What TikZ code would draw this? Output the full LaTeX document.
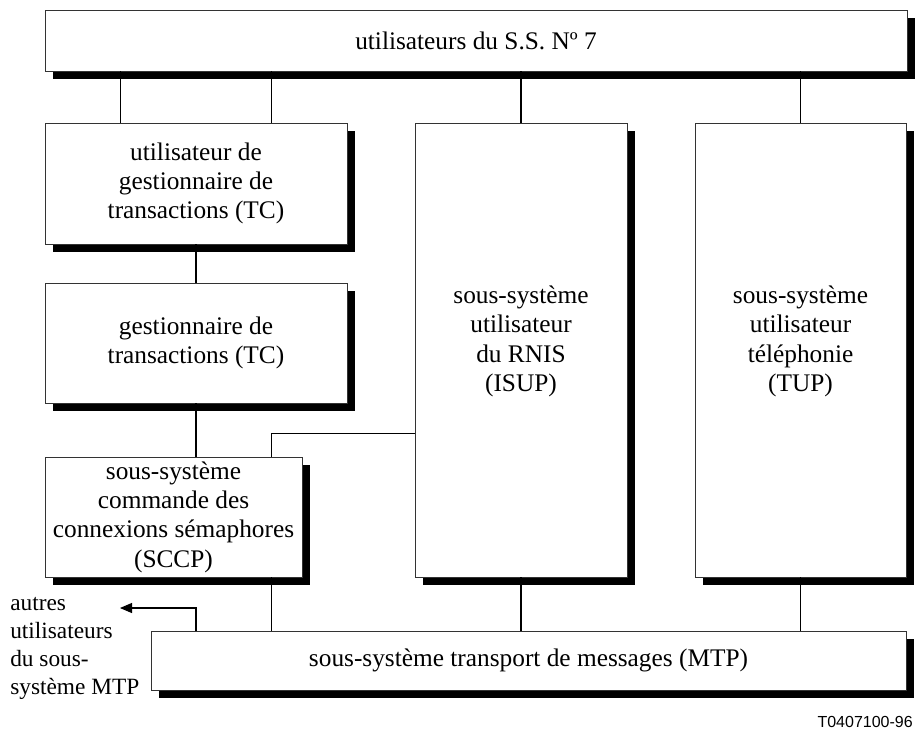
\documentclass[tikz,border=0pt]{standalone}
\usepackage{fontspec}
\setmainfont{Liberation Serif}
\newfontfamily\labelfont{Liberation Sans}
\usetikzlibrary{shadows,calc,arrows.meta}

\tikzset{
  blk/.style={draw=black!80, line width=0.7pt, fill=white, align=center, inner sep=0pt,
    font=\fontsize{19}{22}\selectfont,
    general shadow={fill=black, shadow xshift=6pt, shadow yshift=-6pt}},
  link/.style={line width=0.8pt}
}

\begin{document}
\begin{tikzpicture}[x=0.75pt,y=-0.75pt]
  \useasboundingbox (0,0) rectangle (916,729);
  % blocs
  \node[blk, minimum width=646.5pt, minimum height=45.75pt] (top) at (476,40.5) {utilisateurs du S.S. Nº 7};
  \node[blk, minimum width=226.5pt, minimum height=90.75pt] (tcu) at (196,183.5) {utilisateur de\\gestionnaire de\\transactions (TC)};
  \node[blk, minimum width=226.5pt, minimum height=90pt] (tc) at (196,343) {gestionnaire de\\transactions (TC)};
  \node[blk, minimum width=192.75pt, minimum height=90pt] (sccp) at (173.5,517) {sous-système\\commande des\\connexions sémaphores\\(SCCP)};
  \node[blk, minimum width=159pt, minimum height=340.5pt] (isup) at (521,350) {sous-système\\utilisateur\\du RNIS\\(ISUP)\\[-5pt]};
  \node[blk, minimum width=158.25pt, minimum height=340.5pt] (tup) at (800.5,350) {sous-système\\utilisateur\\téléphonie\\(TUP)\\[-5pt]};
  \node[blk, minimum width=566.25pt, minimum height=44.25pt] (mtp) at (528.5,660.5) {sous-système transport de messages (MTP)};

  % liaisons
  \draw[link] ($(tcu.north west)!.25!(tcu.north east)$) coordinate (u1) -- (u1 |- top.south);
  \draw[link] ($(tcu.north west)!.75!(tcu.north east)$) coordinate (u2) -- (u2 |- top.south);
  \draw[link] (isup.north) -- (isup.north |- top.south);
  \draw[link] (tup.north) -- (tup.north |- top.south);
  \draw[link] (tcu.south) -- (tc.north);
  \draw[link] (tc.south) -- (tc.south |- sccp.north);
  \draw[link] (u2 |- sccp.north) -- ++(0,-23) coordinate (k) -- (k -| isup.west);
  \draw[link] (u2 |- sccp.south) -- (u2 |- mtp.north);
  \draw[link] (isup.south) -- (isup.south |- mtp.north);
  \draw[link] (tup.south) -- (tup.south |- mtp.north);

  % autres utilisateurs
  \node[align=left, anchor=north west, inner sep=0pt, font=\fontsize{17.5}{21}\selectfont] (oth) at (10,597)
    {autres\\utilisateurs\\du sous-\\système MTP};
  \coordinate (ext) at (120,608);
  \draw[link, -{Triangle[length=9pt,width=7.5pt]}] (tc.south |- mtp.north) |- (ext);

  \node[anchor=base east, inner sep=0pt, font=\labelfont\fontsize{12}{14}\selectfont] (ref) at (913,727) {T0407100-96};
\end{tikzpicture}
\end{document}
